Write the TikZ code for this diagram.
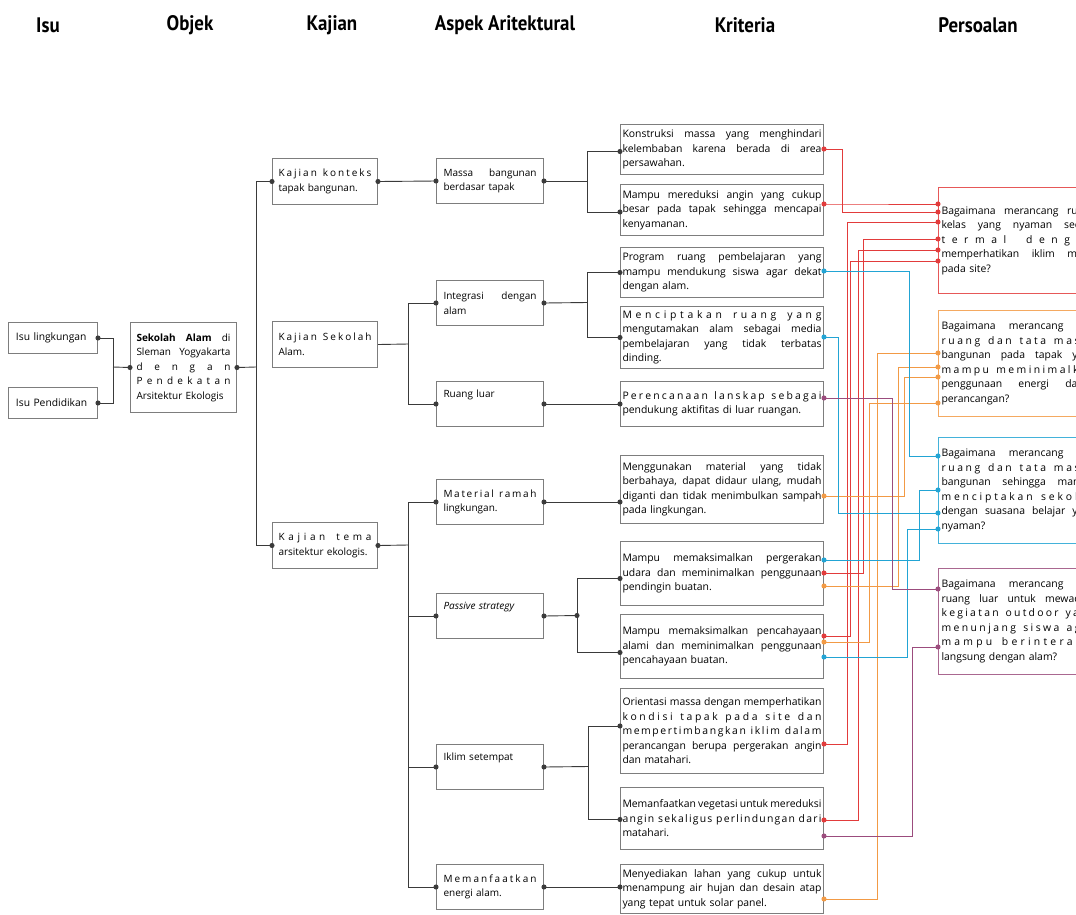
\documentclass[tikz,border=0pt]{standalone}
\usepackage{fontspec}
\setmainfont{Open Sans}
\newfontfamily\headfont[FakeStretch=0.9]{PT Sans}
\usetikzlibrary{arrows.meta}
\setlength\parindent{0pt}

\definecolor{cred}{HTML}{E23B3B}
\definecolor{corange}{HTML}{F29A45}
\definecolor{cblue}{HTML}{22A4D4}
\definecolor{cpurple}{HTML}{9B4C7D}
\definecolor{boxgray}{HTML}{7D7D7D}
\definecolor{linegray}{HTML}{3A3A3A}

% justified line, and letter-spaced line
\newcommand\jline[1]{\hbox to\hsize{\spaceskip=0pt\xspaceskip=0pt #1}\par}
\def\lsword#1{\ifx#1\relax\else#1\hfil\expandafter\lsword\fi}
\def\lswords#1 #2\lsend{\lsword#1\relax\hfil\hfil\ifx\relax#2\relax\else\lswords#2\lsend\fi}
\newcommand\spreadline[1]{\hbox to\hsize{\lswords#1 \lsend\unskip\unskip\unskip}\par}

\begin{document}
\begin{tikzpicture}[x=1pt, y=-1pt,
  bx/.style={draw=boxgray, line width=1pt, anchor=north west, inner sep=0pt, align=left, font=\fontsize{10}{14.5}\selectfont},
  isu/.style={bx, minimum width=89pt, minimum height=31pt, text width=74pt, font=\fontsize{10.3}{14.5}\selectfont},
  obj/.style={bx, minimum width=106pt, minimum height=90pt, text width=94pt},
  kaj/.style={bx, minimum width=105pt, minimum height=46pt, text width=93pt},
  asp/.style={bx, minimum width=107pt, minimum height=45pt, text width=93pt},
  krit/.style={bx, minimum width=203pt, text width=199pt, font=\fontsize{10.4}{14.5}\selectfont},
  pers/.style={bx, minimum width=160pt, minimum height=106pt, text width=154pt, font=\fontsize{10.4}{14.5}\selectfont},
  toptext/.style={text depth=20pt},
  head/.style={font=\headfont\bfseries\fontsize{21}{24}\selectfont},
  link/.style={draw=linegray, line width=0.9pt},
  ddot/.style={{Circle[length=5pt]}-{Circle[length=5pt]}, shorten <=-2.5pt, shorten >=-2.5pt},
  sdot/.style={{Circle[length=5pt]}-, shorten <=-2.5pt},
  edot/.style={-{Circle[length=5pt]}, shorten >=-2.5pt}]
\path[use as bounding box] (0,0) rectangle (1076,914);
\clip (0,0) rectangle (1076,914);
%\draw[help lines, step=50] (0,0) grid (1076,914);

% column heads
\node[head] (hisu) at (48,25) {Isu};
\node[head] (hobj) at (190,25) {Objek};
\node[head] (hkaj) at (332,25) {Kajian};
\node[head] (hasp) at (505,25) {Aspek Aritektural};
\node[head] (hkri) at (745,25) {Kriteria};
\node[head] (hper) at (978,25) {Persoalan};

% isu, objek, kajian
\node[isu] (isu1) at (8,322) {Isu lingkungan};
\node[isu] (isu2) at (8,387) {Isu Pendidikan};
\node[obj] (objek) at (130,322) {\jline{\textbf{Sekolah Alam} di}
  \jline{Sleman Yogyakarta}
  \spreadline{dengan}
  \spreadline{Pendekatan}
  Arsitektur Ekologis};
\node[kaj] (kaj1) at (272,158) {\spreadline{Kajian konteks} tapak bangunan.};
\node[kaj] (kaj2) at (272,321) {\spreadline{Kajian Sekolah} Alam.};
\node[kaj] (kaj3) at (272,522) {\spreadline{Kajian tema} arsitektur ekologis.};

% aspek arsitektural
\node[asp] (asp1) at (436,158) {\jline{Massa bangunan} berdasar tapak};
\node[asp] (asp2) at (436,280) {\jline{Integrasi dengan} alam};
\node[asp, toptext] (asp3) at (436,381) {Ruang luar};
\node[asp] (asp4) at (436,479) {\spreadline{Material ramah} lingkungan.};
\node[asp, toptext] (asp5) at (436,593) {\textit{Passive strategy}};
\node[asp, toptext] (asp6) at (436,744) {Iklim setempat};
\node[asp] (asp7) at (436,864) {\spreadline{Memanfaatkan} energi alam.};

% kriteria
\node[krit, minimum height=50pt] (kr1) at (620,124) {\jline{Konstruksi massa yang menghindari}
  \jline{kelembaban karena berada di area}
  persawahan.};
\node[krit, minimum height=51pt] (kr2) at (620,184) {\jline{Mampu mereduksi angin yang cukup}
  \jline{besar pada tapak sehingga mencapai}
  kenyamanan.};
\node[krit, minimum height=50pt] (kr3) at (620,247) {\jline{Program ruang pembelajaran yang}
  \jline{mampu mendukung siswa agar dekat}
  dengan alam.};
\node[krit, minimum height=62pt] (kr4) at (620,306) {\spreadline{Menciptakan ruang yang}
  \jline{mengutamakan alam sebagai media}
  \jline{pembelajaran yang tidak terbatas}
  dinding.};
\node[krit, minimum height=45pt] (kr5) at (620,381) {\spreadline{Perencanaan lanskap sebagai}
  pendukung aktifitas di luar ruangan.};
\node[krit, minimum height=68pt] (kr6) at (620,455) {\jline{Menggunakan material yang tidak}
  \jline{berbahaya, dapat didaur ulang, mudah}
  \jline{diganti dan tidak menimbulkan sampah}
  pada lingkungan.};
\node[krit, minimum height=64pt] (kr7) at (620,541) {\jline{Mampu memaksimalkan pergerakan}
  \jline{udara dan meminimalkan penggunaan}
  pendingin buatan.};
\node[krit, minimum height=64pt] (kr8) at (620,614) {\jline{Mampu memaksimalkan pencahayaan}
  \jline{alami dan meminimalkan penggunaan}
  pencahayaan buatan.};
\node[krit, minimum height=85pt] (kr9) at (620,688) {\jline{Orientasi massa dengan memperhatikan}
  \spreadline{kondisi tapak pada site dan}
  \spreadline{mempertimbangkan iklim dalam}
  \jline{perancangan berupa pergerakan angin}
  dan matahari.};
\node[krit, minimum height=62pt] (kr10) at (620,787) {\jline{Memanfaatkan vegetasi untuk mereduksi}
  \spreadline{angin sekaligus perlindungan dari}
  matahari.};
\node[krit, minimum height=49pt] (kr11) at (620,864) {\jline{Menyediakan lahan yang cukup untuk}
  \jline{menampung air hujan dan desain atap}
  yang tepat untuk solar panel.};

% persoalan
\node[pers, draw=cred!85] (ps1) at (938,187) {\jline{Bagaimana merancang ruang}
  \jline{kelas yang nyaman secara}
  \spreadline{termal dengan}
  \jline{memperhatikan iklim mikro}
  pada site?};
\node[pers, draw=corange!85] (ps2) at (938,310) {\jline{Bagaimana merancang tata}
  \spreadline{ruang dan tata massa}
  \jline{bangunan pada tapak yang}
  \spreadline{mampu meminimalkan}
  \jline{penggunaan energi dalam}
  perancangan?};
\node[pers, draw=cblue!85] (ps3) at (938,437) {\jline{Bagaimana merancang tata}
  \spreadline{ruang dan tata massa}
  \jline{bangunan sehingga mampu}
  \spreadline{menciptakan sekolah}
  \jline{dengan suasana belajar yang}
  nyaman?};
\node[pers, draw=cpurple!85] (ps4) at (938,568) {\jline{Bagaimana merancang tata}
  \jline{ruang luar untuk mewadahi}
  \spreadline{kegiatan outdoor yang}
  \spreadline{menunjang siswa agar}
  \spreadline{mampu berinteraksi}
  langsung dengan alam?};

% tree links
\coordinate (jn) at (113,367);
\draw[link, sdot] (isu1.east) -| (jn);
\draw[link, sdot] (isu2.east) -| (jn);
\draw[link, edot] (jn) -- (objek.west);
\coordinate (tr) at (256,367);
\draw[link, sdot] (objek.east) -- (tr);
\draw[link, edot] (tr) |- (kaj1.west);
\draw[link, edot] (tr) |- (kaj3.west);
\draw[link, ddot] (kaj1.east) -- (asp1.west);
\coordinate (b2) at (408,344);
\draw[link] (kaj2.east) -- (b2);
\foreach \a in {asp2,asp3}
  \draw[link, edot] (b2) |- (\a.west);
\coordinate (b3) at (408,545);
\draw[link, sdot] (kaj3.east) -- (b3);
\foreach \a in {asp4,asp5,asp6,asp7}
  \draw[link, edot] (b3) |- (\a.west);

\coordinate (b4) at (587,181);
\draw[link, sdot] (asp1.east) -- (b4);
\foreach \k/\d in {kr1/-2,kr2/-2}
  \draw[link, edot] (b4) |- ([yshift=\d pt]\k.west);
\coordinate (b5) at (587,302.5);
\draw[link, sdot] (asp2.east) -- (b5);
\foreach \k in {kr3,kr4}
  \draw[link, edot] (b5) |- (\k.west);
\draw[link, ddot] (asp3.east) -- (asp3.east -| kr5.west);
\draw[link, ddot] (asp4.east) -- (asp4.east -| kr6.west);
\coordinate (b6) at (577,615.5);
\draw[link, ddot] (asp5.east) -- (b6);
\foreach \k/\d in {kr7/-5,kr8/-6}
  \draw[link, edot] (b6) |- ([yshift=\d pt]\k.west);
\coordinate (b7) at (588,766.5);
\draw[link, sdot] (asp6.east) -- (b7);
\foreach \k/\d in {kr9/5,kr10/-1}
  \draw[link, edot] (b7) |- ([yshift=\d pt]\k.west);
\draw[link, ddot] (asp7.east) -- (asp7.east -| kr11.west);

% kriteria -> persoalan
\foreach \k/\ky/\vx/\py/\p/\c in {
    kr1/149/842/212/ps1/cred, kr2/204/842/204/ps1/cred,
    kr7/573/863/239/ps1/cred, kr8/636/850/261/ps1/cred,
    kr9/744/847/222/ps1/cred, kr10/820/858/250/ps1/cred,
    kr6/496/904/377/ps2/corange, kr7/586/898/367/ps2/corange,
    kr8/642/869/403/ps2/corange, kr11/899/877/353/ps2/corange,
    kr3/271/909/456/ps3/cblue, kr4/337/838/513/ps3/cblue,
    kr7/560/919/490/ps3/cblue, kr8/657/907/529/ps3/cblue,
    kr5/398/892/589/ps4/cpurple, kr10/836/912/647/ps4/cpurple}
  \draw[line width=0.9pt, color=\c, ddot] (\k.east |- 0,\ky) -| (\vx,\py) -- (\p.west |- 0,\py);
\end{tikzpicture}
\end{document}
